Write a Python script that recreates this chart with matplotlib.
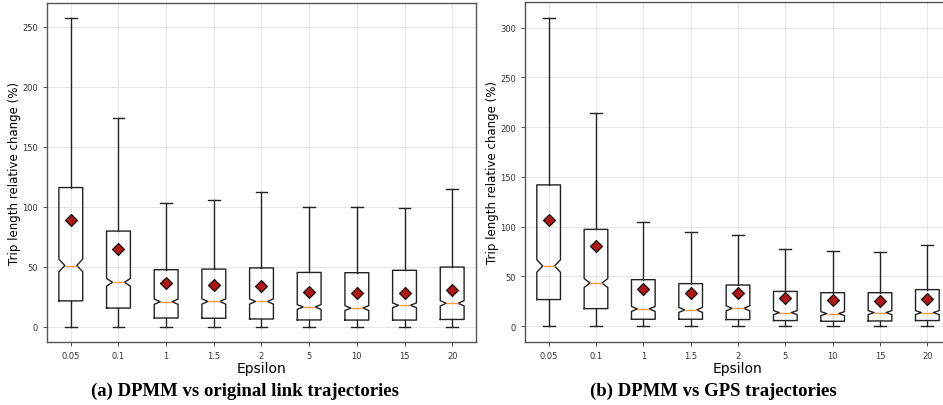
import matplotlib.pyplot as plt

epsilons = ["0.05", "0.1", "1", "1.5", "2", "5", "10", "15", "20"]

# (a) DPMM vs original link trajectories
link_whislo = [0, 0, 0, 0, 0, 0, 0, 0, 0]
link_q1 = [21.5, 15.5, 7.2, 7.0, 6.4, 5.6, 5.5, 5.5, 6.0]
link_med = [51, 37, 20.8, 21, 21, 16.4, 15.5, 17.8, 19.5]
link_q3 = [116, 79.7, 47.5, 48, 49, 45.2, 45, 47, 49.7]
link_whishi = [257, 174, 103, 106, 112, 99.5, 99.5, 99, 115]
link_mean = [89, 65, 36.4, 34.7, 34, 28.8, 27.8, 28.3, 30.3]
link_notch = [5.3, 3.2, 2.2, 2.2, 2.2, 2.0, 2.0, 2.0, 2.2]

# (b) DPMM vs GPS trajectories
gps_whislo = [0, 0, 0, 0, 0, 0, 0, 0, 0]
gps_q1 = [26.8, 17.7, 7.0, 7.0, 6.7, 5.7, 5.0, 5.3, 5.7]
gps_med = [60.5, 43.4, 17.4, 16.4, 18, 13.7, 12.7, 13.7, 13.7]
gps_q3 = [142, 97.3, 46.8, 42.8, 41.4, 35, 33.7, 33.7, 36.8]
gps_whishi = [310, 214, 105, 95, 92, 78, 76, 74.6, 82]
gps_mean = [107, 81, 37.8, 33.4, 33.4, 28.7, 26.4, 25.4, 27]
gps_notch = [6.3, 4.5, 2.5, 2.5, 2.5, 2.0, 2.0, 2.0, 2.0]


def build_stats(whislo, q1, med, q3, whishi, mean, notch):
    stats = []
    for i, lab in enumerate(epsilons):
        stats.append({
            "label": lab,
            "whislo": whislo[i], "q1": q1[i], "med": med[i],
            "q3": q3[i], "whishi": whishi[i], "mean": mean[i],
            "cilo": med[i] - notch[i], "cihi": med[i] + notch[i],
            "fliers": [],
        })
    return stats


def draw_panel(ax, stats):
    ax.bxp(
        stats,
        shownotches=True,
        showmeans=True,
        showfliers=False,
        boxprops=dict(color="#222222", linewidth=1.0),
        whiskerprops=dict(color="#222222", linewidth=1.0),
        capprops=dict(color="#222222", linewidth=1.0),
        medianprops=dict(color="#ff9a40", linewidth=1.0),
        meanprops=dict(marker="D", markerfacecolor="#b01818",
                       markeredgecolor="black", markersize=5.8,
                       markeredgewidth=0.8),
    )
    ax.grid(True, color="#e6e6e6", linewidth=0.7)
    ax.set_axisbelow(True)
    ax.tick_params(labelsize=6, colors="#333333", length=3, width=0.6)
    for sp in ax.spines.values():
        sp.set_color("#555555")
        sp.set_linewidth(1.0)
    ax.set_xlabel("Epsilon", fontsize=10, labelpad=1)
    ax.set_ylabel("Trip length relative change (%)", fontsize=8.5)
    ax.yaxis.set_label_coords(-0.06, 0.5)


fig = plt.figure(figsize=(9.43, 4.06), dpi=100)
ax1 = fig.add_axes([0.0498, 0.155, 0.455, 0.835])
ax2 = fig.add_axes([0.5567, 0.156, 0.4518, 0.836])

draw_panel(ax1, build_stats(link_whislo, link_q1, link_med, link_q3,
                            link_whishi, link_mean, link_notch))
draw_panel(ax2, build_stats(gps_whislo, gps_q1, gps_med, gps_q3,
                            gps_whishi, gps_mean, gps_notch))

cap_font = dict(ha="center", va="center", fontsize=13.5, fontweight="bold",
                family="Liberation Serif")
fig.text(0.26, 0.037, "(a) DPMM vs original link trajectories", **cap_font)
fig.text(0.757, 0.037, "(b) DPMM vs GPS trajectories", **cap_font)

fig.savefig("out.png", dpi=100)
